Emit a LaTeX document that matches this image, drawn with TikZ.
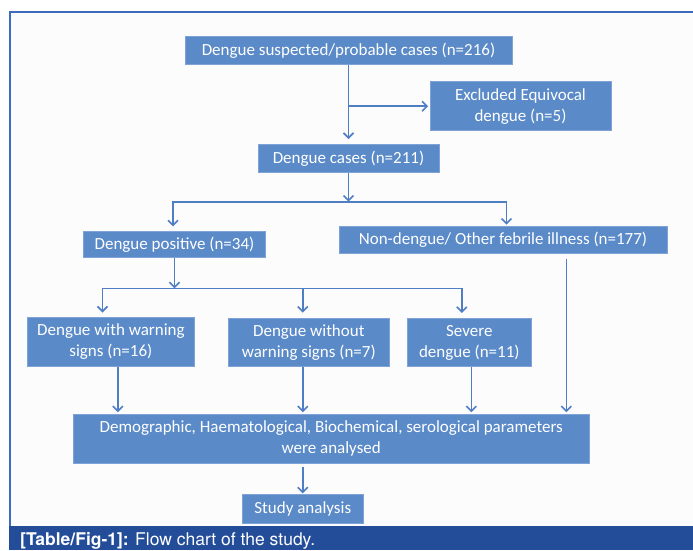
\documentclass[tikz,border=0pt]{standalone}
\usepackage{fontspec}
\setmainfont{Carlito}
\newfontfamily\capfont{TeX Gyre Heros}
\usetikzlibrary{arrows.meta}

\definecolor{boxblue}{HTML}{5A8AC8}
\definecolor{boxedge}{HTML}{7FA3D6}
\definecolor{lineblue}{HTML}{4F7EC4}
\definecolor{frameblue}{HTML}{3F6BBE}
\definecolor{capblue}{HTML}{234C99}
\definecolor{paper}{HTML}{FCFCFC}

\begin{document}
\begin{tikzpicture}[x=1pt,y=-1pt,>={Straight Barb[length=5pt,width=10pt]},
  box/.style={fill=boxblue,draw=boxedge,line width=0.6pt,text=white,inner sep=0pt,
    align=center,font=\fontsize{17}{21}\selectfont},
  link/.style={->,lineblue,line width=1.6pt}]
  \useasboundingbox (0,0) rectangle (693,550);
  \fill[white] (0,0) rectangle (693,550);
  \fill[paper] (10,12) rectangle (693,526);
  \draw[frameblue,line width=1.2pt] (694,12) -- (10,12) -- (10,526);
  \fill[capblue] (9,526) rectangle (693,550);
  \node[anchor=base west,text=white,inner sep=0pt,font=\capfont\fontsize{17.5}{20}\selectfont]
    (caption) at (20,545) {\textbf{[Table/Fig-1]:} Flow chart of the study.};

  % boxes
  \node[box,minimum width=327pt,minimum height=27.6pt] (susp) at (348.5,50.5)
    {Dengue suspected/probable cases (n=216)};
  \node[box,minimum width=181pt,minimum height=49pt] (excl) at (520.5,106.2)
    {Excluded Equivocal\\dengue (n=5)};
  \node[box,minimum width=181pt,minimum height=28.4pt] (cases) at (348.5,158.5)
    {Dengue cases (n=211)};
  \node[box,minimum width=182pt,minimum height=26pt] (pos) at (174.5,244.7)
    {Dengue positive (n=34)};
  \node[box,minimum width=328pt,minimum height=27.3pt] (nond) at (503,239.6)
    {Non-dengue/ Other febrile illness (n=177)};
  \node[box,minimum width=167pt,minimum height=49.4pt] (warn) at (110.9,342)
    {Dengue with warning\\signs (n=16)};
  \node[box,minimum width=161.7pt,minimum height=48.7pt] (nowarn) at (308.8,342.3)
    {Dengue without\\warning signs (n=7)};
  \node[box,minimum width=124pt,minimum height=48.4pt] (severe) at (469.3,342.5)
    {Severe\\dengue (n=11)};
  \node[box,minimum width=515.7pt,minimum height=49pt] (params) at (331.2,438.5)
    {Demographic, Haematological, Biochemical, serological parameters\\were analysed};
  \node[box,minimum width=120.3pt,minimum height=28.3pt] (study) at (302.8,508.8)
    {Study analysis};

  \coordinate (split1) at (348.5,201.7);
  \coordinate (split2) at (174.5,288.3);

  % connectors
  \draw[link,shorten >=5pt] (susp) -- (cases);
  \draw[link,shorten >=1.5pt] (susp.south |- excl.west) -- (excl.west);
  \draw[link] (cases) -- (split1);
  \draw[link,shorten >=5pt] (split1) -| ([xshift=-1.5]pos.north);
  \draw[link,shorten >=1pt] (split1) -| ([xshift=3.5]nond.north);
  \draw[link] (pos) -- (split2);
  \draw[link,shorten >=4.5pt] (split2) -| ([xshift=-8.4]warn.north);
  \draw[link,shorten >=5pt] (split2) -| ([xshift=-6]nowarn.north);
  \draw[link,shorten >=5pt] (split2) -| ([xshift=-7.5]severe.north);
  \draw[link,shorten >=1.5pt] ([xshift=7]warn.south) -- ([xshift=7]warn.south |- params.north);
  \draw[link,shorten >=1.5pt] ([xshift=-6]nowarn.south) -- ([xshift=-6]nowarn.south |- params.north);
  \draw[link,shorten >=1.5pt] ([xshift=2]severe.south) -- ([xshift=2]severe.south |- params.north);
  \draw[link,shorten <=5pt,shorten >=1.5pt] ([xshift=63.3]nond.south) -- ([xshift=63.3]nond.south |- params.north);
  \draw[link,shorten <=4pt,shorten >=1pt] (study |- params.south) -- (study);
\end{tikzpicture}
\end{document}
